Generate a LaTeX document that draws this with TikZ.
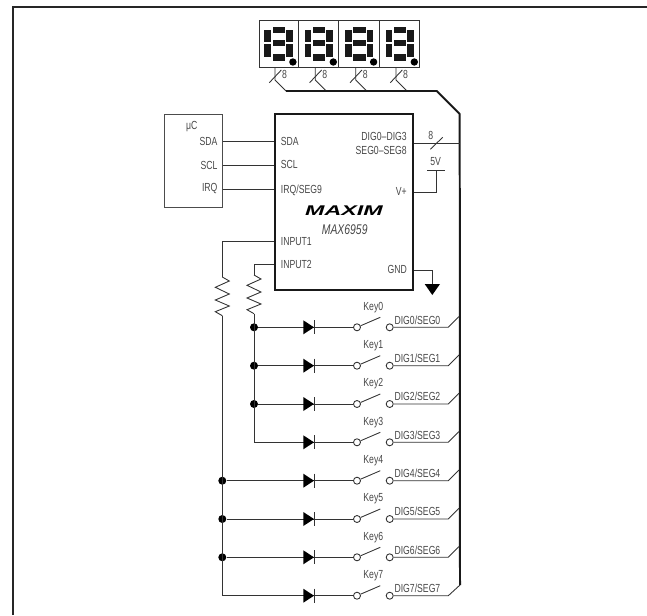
\documentclass[tikz,border=0pt]{standalone}
\usepackage{fontspec}
\setsansfont[FakeStretch=0.74]{Liberation Sans}
\colorlet{ink}{black!72}
\tikzset{
  every node/.style={font=\sffamily\fontsize{10}{11}\selectfont,text=ink,inner sep=0pt},
  wire/.style={line width=0.75pt,black!80},
  bus/.style={line width=1.7pt,black!90},
  chip/.style={draw=black!90,line width=1.5pt,minimum width=137.7*0.03cm,minimum height=175.7*0.03cm},
  mcubox/.style={draw=black!70,line width=0.75pt,minimum width=57.6*0.03cm,minimum height=93*0.03cm},
  joint/.style={circle,fill=black,minimum size=8*0.03cm},
  term/.style={circle,draw=black!80,fill=white,line width=0.75pt,minimum size=7*0.03cm},
  pics/segs/.style={code={
    \fill [black!90] (8.3,0) rectangle (20.7,6);
    \fill [black!90] (0,3.3) rectangle (6.7,15);
    \fill [black!90] (21.7,3.3) rectangle (28.3,15);
    \fill [black!90] (8.3,13.3) rectangle (20.7,19.3);
    \fill [black!90] (0,17.7) rectangle (6.7,30.7);
    \fill [black!90] (21.7,17.7) rectangle (28.3,30.7);
    \fill [black!90] (8.3,27.3) rectangle (20.7,34);
    \fill [black] (28.6,35.3) circle [radius=3.7];
  }},
  pics/diode/.style={code={
    \fill [black] (0,-7) -- (0,7) -- (10.7,0) -- cycle;
    \draw [wire] (11,-7) -- (11,7);
  }},
  pics/zigzag/.style={code={
    \draw [wire] (0,0) -- (7,4) -- (-7,10.3) -- (7,17) -- (-7,23) -- (7,29) -- (-7,34.7) -- (0,38.7);
  }},
}
\begin{document}
\begin{tikzpicture}[x=0.03cm,y=-0.03cm]
\useasboundingbox (0,0) rectangle (647,615);
% frame
\draw [line width=1.8pt,black!85] (13,615) -- (13,7) -- (647,7);
% display
\draw [line width=0.75pt,black!80] (259,20) rectangle (419,67);
\draw [line width=0.75pt,black!80] (298.5,20) -- (298.5,67);
\draw [line width=0.75pt,black!80] (338.5,20) -- (338.5,67);
\draw [line width=0.75pt,black!80] (379.5,20) -- (379.5,67);
\pic at (264.3,26.7) {segs};
\pic at (304.7,26.7) {segs};
\pic at (345,26.7) {segs};
\pic at (385.7,26.7) {segs};
% display stubs
\coordinate (top0) at (275,67);
\coordinate (top1) at (315.3,67);
\coordinate (top2) at (355.7,67);
\coordinate (top3) at (396,67);
\coordinate (bus0) at (286,91);
\coordinate (bus1) at (326.3,91);
\coordinate (bus2) at (366.7,91);
\coordinate (bus3) at (407,91);
\draw [wire] (top0) -- ++(0,13) -- (bus0);
\draw [wire] (top1) -- ++(0,13) -- (bus1);
\draw [wire] (top2) -- ++(0,13) -- (bus2);
\draw [wire] (top3) -- ++(0,13) -- (bus3);
\draw [wire] (269.3,82.7) -- (281.3,70);
\draw [wire] (309.6,82.7) -- (321.6,70);
\draw [wire] (350,82.7) -- (362,70);
\draw [wire] (390.3,82.7) -- (402.3,70);
\node (n0) at (284.5,74) {8};
\node (n1) at (324.8,74) {8};
\node (n2) at (365.2,74) {8};
\node (n3) at (405.5,74) {8};
% bus
\coordinate (busend) at (460,585);
\draw [bus,line join=round] (bus0) -- (436.7,91) -- (459.7,114) -- (busend);
% chips
\node [chip] (ic) at (344.2,202.2) {};
\node [mcubox] (mcu) at (193.5,161.2) {};
\node (mcuname) at (191.7,126.7) {μC};
\node [anchor=east] (usda) at (217.7,141) {SDA};
\node [anchor=east] (uscl) at (217.7,165) {SCL};
\node [anchor=east] (uirq) at (217.7,189) {IRQ};
\node [anchor=west] (isda) at (280.7,141) {SDA};
\node [anchor=west] (iscl) at (280.7,164) {SCL};
\node [anchor=west] (iirq) at (280.7,190) {IRQ/SEG9};
\node [anchor=west] (iin1) at (280.7,241.5) {INPUT1};
\node [anchor=west] (iin2) at (280.7,264.5) {INPUT2};
\node [anchor=east] (idig) at (407,136.7) {DIG0--DIG3};
\node [anchor=east] (iseg) at (407,150) {SEG0--SEG8};
\node [anchor=east] (ivcc) at (407,191) {V+};
\node [anchor=east] (ignd) at (407,269.5) {GND};
\node [text=black,font=\sffamily\bfseries\itshape\fontsize{12}{12}\selectfont] (logo) at (344,210.5) {\scalebox{2.24}[1]{MAXIM}};
\node [font=\sffamily\itshape\fontsize{12}{12}\selectfont] (part) at (344.7,229.3) {MAX6959};
\draw [wire] (mcu.east |- usda) -- (ic.west |- usda);
\draw [wire] (mcu.east |- uscl) -- (ic.west |- uscl);
\draw [wire] (mcu.east |- uirq) -- (ic.west |- uirq);
% 8 bit link and supply
\coordinate (bustap) at (460,143);
\draw [wire] (ic.east |- bustap) -- (bustap);
\draw [wire] (430.3,149.3) -- (442.7,137.3);
\node (nlink) at (430.7,135) {8};
\node (vcc) at (435.7,162) {5V};
\coordinate (vbar) at (436.3,170.7);
\draw [wire] (ic.east |- 0,192) -- (436.3,192) -- (vbar);
\draw [wire] (427.3,170.7) -- (445.3,170.7);
\coordinate (gndtop) at (432.3,284);
\draw [wire] (ic.east |- 0,270.3) -- (432.3,270.3) -- (gndtop);
\fill [black] (424.7,284) -- (440,284) -- (432.3,295) -- cycle;
% pull-ups
\coordinate (ra) at (222.3,277);
\coordinate (rb) at (254,275);
\draw [wire] (ic.west |- 0,241.3) -- (222.3,241.3) -- (ra);
\draw [wire] (ic.west |- 0,264.7) -- (254,264.7) -- (rb);
\pic at (ra) {zigzag};
\pic at (rb) {zigzag};
% joints
\node [joint] (j0) at (254,327.3) {};
\node [joint] (j1) at (254,365.7) {};
\node [joint] (j2) at (254,404) {};
\coordinate (j3) at (254,442.3);
\node [joint] (j4) at (222.3,480.7) {};
\node [joint] (j5) at (222.3,519) {};
\node [joint] (j6) at (222.3,557.3) {};
\coordinate (j7) at (222.3,595.7);
\draw [wire] (254,313.7) -- (j3);
\draw [wire] (222.3,315.7) -- (j7);
% switch terminals
\node [term] (a0) at (357,327.3) {};
\node [term] (a1) at (357,365.7) {};
\node [term] (a2) at (357,404) {};
\node [term] (a3) at (357,442.3) {};
\node [term] (a4) at (357,480.7) {};
\node [term] (a5) at (357,519) {};
\node [term] (a6) at (357,557.3) {};
\node [term] (a7) at (357,595.7) {};
\node [term] (b0) at (389.7,327.3) {};
\node [term] (b1) at (389.7,365.7) {};
\node [term] (b2) at (389.7,404) {};
\node [term] (b3) at (389.7,442.3) {};
\node [term] (b4) at (389.7,480.7) {};
\node [term] (b5) at (389.7,519) {};
\node [term] (b6) at (389.7,557.3) {};
\node [term] (b7) at (389.7,595.7) {};
% row wires
\draw [wire] (j0) -- (a0);
\draw [wire] (j1) -- (a1);
\draw [wire] (j2) -- (a2);
\draw [wire] (j3) -- (a3);
\draw [wire] (j4) -- (a4);
\draw [wire] (j5) -- (a5);
\draw [wire] (j6) -- (a6);
\draw [wire] (j7) -- (a7);
% diodes
\pic at (303.3,327.3) {diode};
\pic at (303.3,365.7) {diode};
\pic at (303.3,404) {diode};
\pic at (303.3,442.3) {diode};
\pic at (303.3,480.7) {diode};
\pic at (303.3,519) {diode};
\pic at (303.3,557.3) {diode};
\pic at (303.3,595.7) {diode};
% blades
\draw [wire] (a0) -- ++(23.3,-10);
\draw [wire] (a1) -- ++(23.3,-10);
\draw [wire] (a2) -- ++(23.3,-10);
\draw [wire] (a3) -- ++(23.3,-10);
\draw [wire] (a4) -- ++(23.3,-10);
\draw [wire] (a5) -- ++(23.3,-10);
\draw [wire] (a6) -- ++(23.3,-10);
\draw [wire] (a7) -- ++(23.3,-10);
% taps into the bus
\draw [wire] (b0) -- (448.3,327.3) -- (459,316.6);
\draw [wire] (b1) -- (448.3,365.7) -- (459,355);
\draw [wire] (b2) -- (448.3,404) -- (459,393.3);
\draw [wire] (b3) -- (448.3,442.3) -- (459,431.6);
\draw [wire] (b4) -- (448.3,480.7) -- (459,470);
\draw [wire] (b5) -- (448.3,519) -- (459,508.3);
\draw [wire] (b6) -- (448.3,557.3) -- (459,546.6);
\draw [wire] (b7) -- (448.3,595.7) -- (busend);
% labels
\node (k0) at (373.3,307.3) {Key0};
\node (k1) at (373.3,345.7) {Key1};
\node (k2) at (373.3,384) {Key2};
\node (k3) at (373.3,422.3) {Key3};
\node (k4) at (373.3,460.7) {Key4};
\node (k5) at (373.3,499) {Key5};
\node (k6) at (373.3,537.3) {Key6};
\node (k7) at (373.3,575.7) {Key7};
\node [anchor=west] (l0) at (394.3,320) {DIG0/SEG0};
\node [anchor=west] (l1) at (394.3,358.4) {DIG1/SEG1};
\node [anchor=west] (l2) at (394.3,396.7) {DIG2/SEG2};
\node [anchor=west] (l3) at (394.3,435) {DIG3/SEG3};
\node [anchor=west] (l4) at (394.3,473.4) {DIG4/SEG4};
\node [anchor=west] (l5) at (394.3,511.7) {DIG5/SEG5};
\node [anchor=west] (l6) at (394.3,550) {DIG6/SEG6};
\node [anchor=west] (l7) at (394.3,588.4) {DIG7/SEG7};
\end{tikzpicture}
\end{document}
